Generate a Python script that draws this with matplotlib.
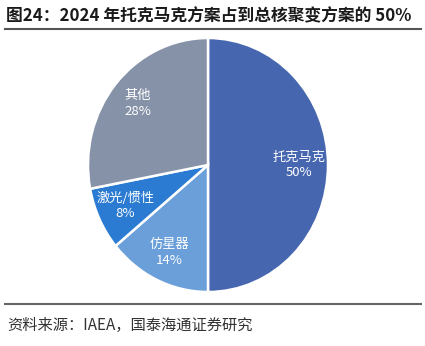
import matplotlib
matplotlib.use("Agg")
import matplotlib.pyplot as plt
from matplotlib.lines import Line2D

plt.rcParams['font.family'] = ['Noto Sans CJK SC', 'DejaVu Sans']

categories = ["托克马克", "仿星器", "激光/惯性", "其他"]
values = [50, 14, 8, 28]
colors = ["#4666B0", "#6B9FD9", "#2B7BD3", "#8692A8"]
title = "图24：2024 年托克马克方案占到总核聚变方案的 50%"
source = "资料来源：IAEA，国泰海通证券研究"

W, H = 425, 346
fig = plt.figure(figsize=(W / 100, H / 100), dpi=100)

# pie axes: x 88..328, y 38..292 (pixels from top)
ax = fig.add_axes([88 / W, 1 - 292 / H, 240 / W, 254 / H])
labels = [f"{c}\n{v}%" for c, v in zip(categories, values)]
wedges, texts = ax.pie(values, labels=labels, colors=colors, startangle=90,
                       counterclock=False, labeldistance=0.76,
                       wedgeprops=dict(edgecolor="white", linewidth=1.8),
                       textprops=dict(color="white", fontsize=9.5, linespacing=1.25))
for t in texts:
    t.set_ha("center")
    t.set_va("center")
ax.set_aspect("auto")
ax.set_xlim(-1, 1)
ax.set_ylim(-1, 1)

fig.text(6 / W, 1 - 16 / H, title, fontsize=12.1, fontweight="bold",
         color="#1a1a1a", ha="left", va="center")
fig.add_artist(Line2D([5 / W, 421 / W], [1 - 29 / H, 1 - 29 / H],
                      transform=fig.transFigure, color="#555555", linewidth=1.5))
fig.add_artist(Line2D([5 / W, 421 / W], [1 - 304 / H, 1 - 304 / H],
                      transform=fig.transFigure, color="#666666", linewidth=1.5))
fig.text(7 / W, 1 - 325 / H, source, fontsize=11, color="#333333",
         ha="left", va="center")

fig.savefig("out.png", dpi=100)
